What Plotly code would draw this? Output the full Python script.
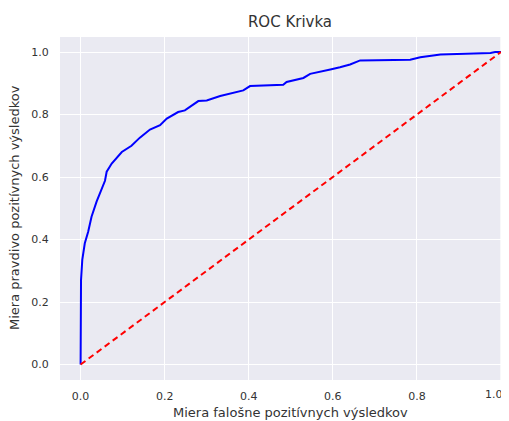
import plotly.graph_objects as go

fpr = [0, 0, 0.001, 0.004, 0.01, 0.018, 0.026, 0.038, 0.05, 0.058,
       0.062, 0.074, 0.098, 0.121, 0.141, 0.165, 0.189, 0.205, 0.232, 0.248,
       0.28, 0.30, 0.332, 0.363, 0.387, 0.403, 0.443, 0.482, 0.49, 0.53,
       0.546, 0.578, 0.594, 0.617, 0.641, 0.665, 0.784, 0.808, 0.856, 0.975,
       0.986, 1.0]
tpr = [0, 0.207, 0.27, 0.335, 0.388, 0.425, 0.473, 0.521, 0.558, 0.588,
       0.617, 0.643, 0.68, 0.70, 0.726, 0.752, 0.766, 0.787, 0.808, 0.813,
       0.843, 0.845, 0.859, 0.869, 0.877, 0.891, 0.893, 0.895, 0.904, 0.917,
       0.930, 0.938, 0.944, 0.951, 0.96, 0.973, 0.975, 0.983, 0.992, 0.997,
       1.0, 1.0]
diag_x = [0, 1]
diag_y = [0, 1]
ticks = [0.0, 0.2, 0.4, 0.6, 0.8, 1.0]
tick_text = ["0.0", "0.2", "0.4", "0.6", "0.8", "1.0"]

title = "ROC Krivka"
x_title = "Miera falošne pozitívnych výsledkov"
y_title = "Miera pravdivo pozitívnych výsledkov"

# page has an 8px body margin, so the figure is drawn 8px in from the corner
OFF = 8
W, H = 509 - OFF, 421 - OFF
L, R, T, B = 60 - OFF, 0, 37 - OFF, 41
PW, PH = W - L - R, H - T - B
font = "DejaVu Sans"
txt = "#333333"

fig = go.Figure()
fig.add_trace(go.Scatter(x=fpr, y=tpr, mode="lines",
                         line=dict(color="blue", width=2), showlegend=False))
fig.add_trace(go.Scatter(x=diag_x, y=diag_y, mode="lines",
                         line=dict(color="red", width=2, dash="6px,4px"),
                         showlegend=False))

fig.update_layout(
    width=W, height=H,
    margin=dict(l=L, r=R, t=T, b=B, pad=0, autoexpand=False),
    paper_bgcolor="white",
    plot_bgcolor="#EAEAF2",
    font=dict(family=font, color=txt, size=11),
    title=dict(text=title, x=(290 - OFF) / W, xanchor="center",
               y=1 - (22 - OFF) / H, yanchor="middle", yref="container",
               font=dict(size=15, family=font, color=txt)),
)
# last x tick label sits on the page edge; drawn as an annotation nudged
# inward so it stays fully visible
fig.update_xaxes(
    range=[-0.049, 1.019], tickvals=ticks[:-1], ticktext=tick_text[:-1],
    showgrid=True, gridcolor="white", gridwidth=1.3, zeroline=False,
    showline=False, ticks="outside", ticklen=6, tickcolor="rgba(0,0,0,0)",
    tickfont=dict(size=11, color=txt), automargin=False,
)
fig.add_vline(x=ticks[-1], line=dict(color="white", width=1.3), layer="below")
fig.add_annotation(text=tick_text[-1], xref="x", yref="paper",
                   x=ticks[-1], y=(372 - 386) / PH, xshift=-7,
                   xanchor="center", yanchor="middle", showarrow=False,
                   font=dict(size=11, family=font, color=txt))
fig.update_yaxes(
    range=[-0.0495, 1.048], tickvals=ticks, ticktext=tick_text,
    showgrid=True, gridcolor="white", gridwidth=1.3, zeroline=False,
    showline=False, ticks="outside", ticklen=8, tickcolor="rgba(0,0,0,0)",
    tickfont=dict(size=11, color=txt), automargin=False,
)
fig.add_annotation(text=x_title, xref="paper", yref="paper",
                   x=(290 - 60) / PW, y=(380 - 413) / PH,
                   xanchor="center", yanchor="middle", showarrow=False,
                   font=dict(size=13, family=font, color=txt))
fig.add_annotation(text=y_title, xref="paper", yref="paper",
                   x=(15 - 60) / PW, y=(380 - 208) / PH, textangle=-90,
                   xanchor="center", yanchor="middle", showarrow=False,
                   font=dict(size=13, family=font, color=txt))

fig.write_html("out.html")
